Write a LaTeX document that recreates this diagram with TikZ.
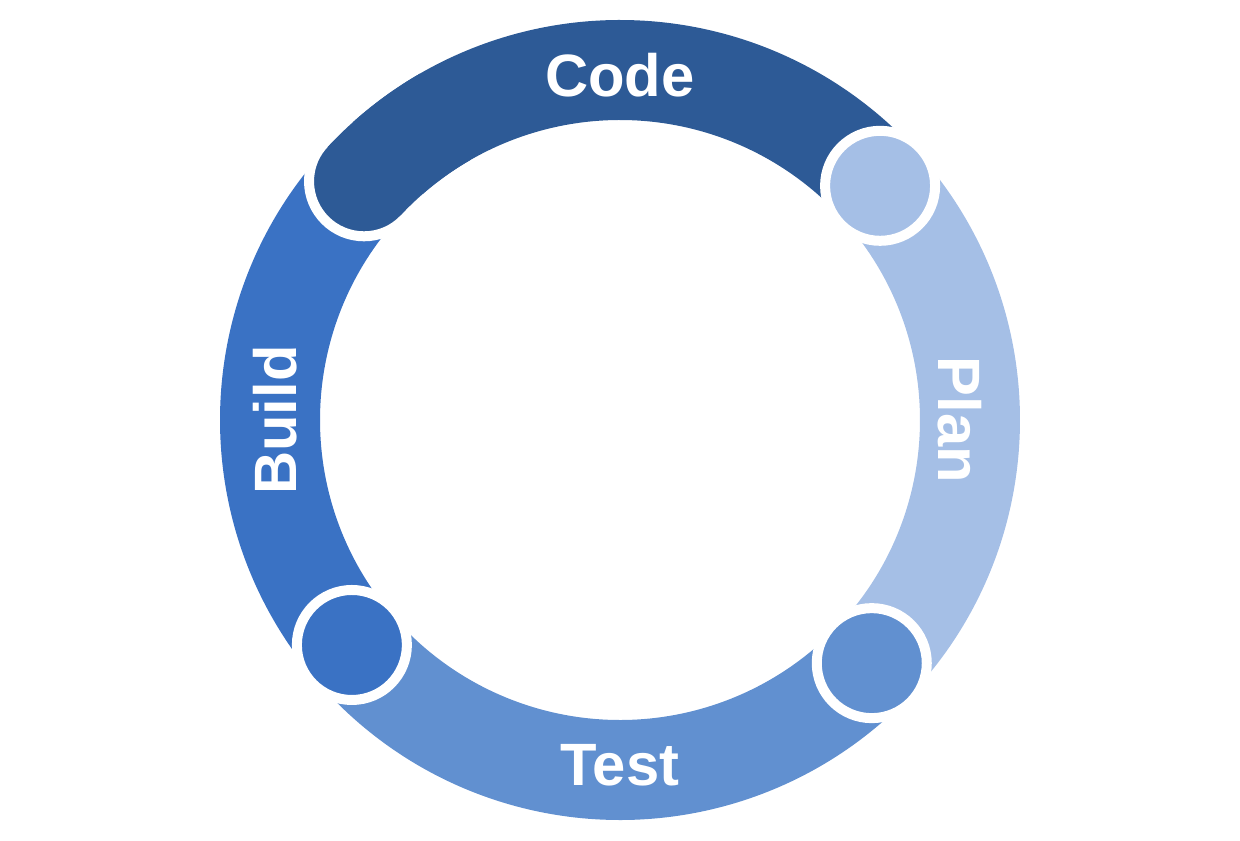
\documentclass[tikz,border=0pt]{standalone}
\usepackage{fontspec}
\setsansfont{Liberation Sans}
\usetikzlibrary{positioning}
\definecolor{codec}{HTML}{2D5A96}
\definecolor{planc}{HTML}{A5BFE6}
\definecolor{testc}{HTML}{6190D0}
\definecolor{buildc}{HTML}{3A72C4}
\begin{document}
\begin{tikzpicture}[seg/.style={line width=2cm, line cap=butt},
  endcap/.style={circle, draw=white, line width=0.2cm, minimum size=2.2cm, inner sep=0pt},
  lbl/.style={text=white, font=\sffamily\bfseries\fontsize{34}{34}\selectfont}]
  \useasboundingbox (-12.4,-8.4) rectangle (12.4,8.4);
  % ring pieces
  \draw[seg, codec] (137:7) arc[start angle=137, end angle=42, radius=7];
  \node[endcap, fill=codec] (codecap) at (137:7) {};
  \draw[seg, planc] (42:7) arc[start angle=42, end angle=-44, radius=7];
  \node[endcap, fill=planc] (plancap) at (42:7) {};
  \draw[seg, testc] (-44:7) arc[start angle=-44, end angle=-140, radius=7];
  \node[endcap, fill=testc] (testcap) at (-44:7) {};
  \draw[seg, buildc] (-140:7) arc[start angle=-140, end angle=-223, radius=7];
  \node[endcap, fill=buildc] (buildcap) at (-140:7) {};
  % code cap again on top of build
  \node[endcap, fill=codec] (codetop) at (137:7) {};
  \draw[seg, codec] (137:7) arc[start angle=137, end angle=120, radius=7];
  % labels
  \node[lbl] (code) at (90:6.9) {Code};
  \node[lbl, rotate=-90] (plan) at (0:6.8) {Plan};
  \node[lbl] (test) at (-90:6.9) {Test};
  \node[lbl, rotate=90] (build) at (180:6.9) {Build};
\end{tikzpicture}
\end{document}
